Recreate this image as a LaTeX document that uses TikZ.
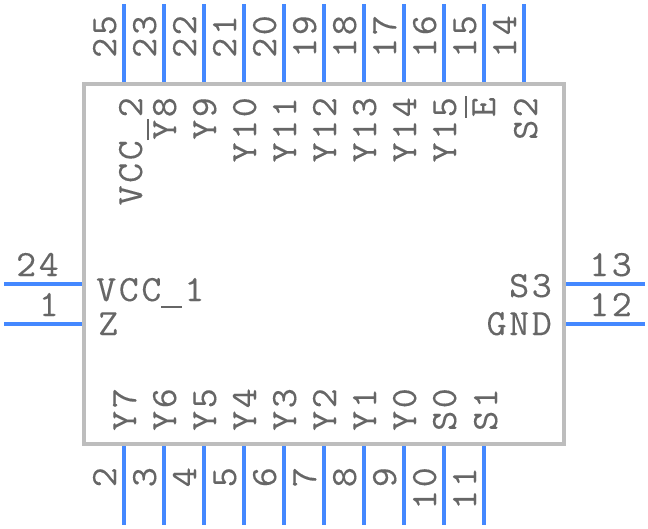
\documentclass[tikz,border=0pt]{standalone}
\usepackage{fontspec}
\setmonofont{Latin Modern Mono}[FakeStretch=1.05,LetterSpace=7,FakeBold=0.2]
\definecolor{pinblue}{HTML}{4488FF}
\definecolor{chipgrey}{HTML}{BDBDBD}
\definecolor{labelgrey}{HTML}{666666}
\newcommand{\usbar}{\rule[-7pt]{21pt}{2pt}\kern 2pt}
\tikzset{
  pinline/.style={draw=pinblue,line width=4pt},
  chipbox/.style={draw=chipgrey,line width=4pt,fill=white,inner sep=0pt,minimum width=480pt,minimum height=360pt},
  txt/.style={text=labelgrey,inner sep=0pt,font=\ttfamily\fontsize{37}{37}\selectfont},
}
\begin{document}
\begin{tikzpicture}[x=1pt,y=-1pt]
\useasboundingbox (0,0) rectangle (648,528);
\node[chipbox] (chip) at (324,264) {};
% top pins
\foreach \n/\x in {25/124,23/164,22/204,21/244,20/284,19/324,18/364,17/404,16/444,15/484,14/524}{
  \coordinate (pt\n) at (\x,4);
  \coordinate (pa\n) at (\x,82);
  \draw[pinline] (pa\n) -- (pt\n);
  \node[txt,rotate=90,anchor=base west] (num\n) at (\x-8,58) {\n};
}
% bottom pins
\foreach \n/\x in {2/124,3/164,4/204,5/244,6/284,7/324,8/364,9/404,10/444,11/484}{
  \coordinate (pt\n) at (\x,525);
  \coordinate (pa\n) at (\x,446);
  \draw[pinline] (pa\n) -- (pt\n);
  \node[txt,rotate=90,anchor=base east] (num\n) at (\x-8,467) {\n};
}
% side pins
\coordinate (pa24) at (82,284); \coordinate (pt24) at (4,284);
\coordinate (pa1) at (82,324); \coordinate (pt1) at (4,324);
\coordinate (pa13) at (566,284); \coordinate (pt13) at (645,284);
\coordinate (pa12) at (566,324); \coordinate (pt12) at (645,324);
\draw[pinline] (pa24) -- (pt24);
\draw[pinline] (pa1) -- (pt1);
\draw[pinline] (pa13) -- (pt13);
\draw[pinline] (pa12) -- (pt12);
\node[txt,anchor=base east] (num24) at (59,276) {24};
\node[txt,anchor=base east] (num1) at (59,316) {1};
\node[txt,anchor=base west] (num13) at (589,276) {13};
\node[txt,anchor=base west] (num12) at (589,316) {12};
% inner labels, top
\foreach \t/\x in {VCC\usbar 2/142,Y8/176,Y9/216,Y10/256,Y11/296,Y12/336,Y13/376,Y14/416,Y15/456,E/495,S2/537}{
  \node[txt,rotate=90,anchor=base east] at (\x,97) {\t};
}
\coordinate (ebara) at (466,96); \coordinate (ebarb) at (466,118);
\draw[labelgrey,line width=2pt] (ebara) -- (ebarb);
% inner labels, bottom
\foreach \t/\x in {Y7/136,Y6/176,Y5/216,Y4/256,Y3/296,Y2/336,Y1/376,Y0/416,S0/456,S1/497}{
  \node[txt,rotate=90,anchor=base west] at (\x,431) {\t};
}
\node[txt,anchor=base west] (vcc) at (96,301) {VCC\usbar 1};
\node[txt,anchor=base west] (z) at (98,335) {Z};
\node[txt,anchor=base east] (s3) at (552,297) {S3};
\node[txt,anchor=base east] (gnd) at (552,335) {GND};
\end{tikzpicture}
\end{document}
